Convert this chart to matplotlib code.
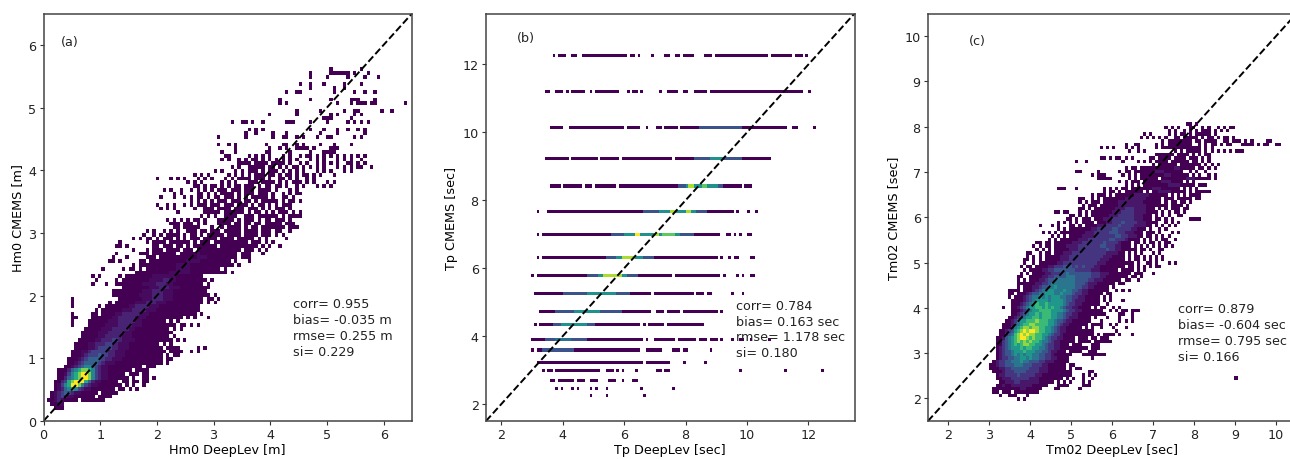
import numpy as np
import matplotlib
matplotlib.use("Agg")
import matplotlib.pyplot as plt
from matplotlib.colors import PowerNorm

# cells are "first column|levels", one string per histogram row, '.' = empty bin
a_first_row = 3
a_cells = [
    "3|111", "2|1122", "1|112321111.1111111", "2|1234322111111.1111",
    "2|12345432211111.11111", "3|123567643221111111.11.1.1",
    "3|12467998643221111111.1.1..1", "3|1134789997532211111.11.11.11",
    "4|113567899864322111111.1..11.1", "4|11246789986432211111.111.11",
    "4|1113567887643221111111.1111", "6|11234566543221111111111.111",
    "7|1123455554322211111111111111.1", "7|1112345555433222111111111111.11",
    "8|111234445443322211111111111.1.11", "8|1112234444433222111111111111.1111..1.1",
    "9|11112234444332221111111111.1111.....1.1", "9|1111223334433222111111111.1.1",
    "10|1111122333443222211111111111.1.1", "11|11111223333322211111111111.1",
    "11|111112223333322111111111111", "12|1111122233333221111111111.1.1",
    "8|1....11111222233332221111111111.11.1.1", "8|1....11111122233333221111111.1.1",
    "8|11....111111223333322211111111111.1.1...1", "8|1.....11.1111223333322211111111111111.1",
    "15|1.11111122233332221111111111111", "8|1.......1.1111111223333222111111111111",
    "8|1..........1.11111122233322211111111111.1.1", "8|1.............1111111222333222111111111.11.1",
    "20|11111111222233322211111111111.1", "20|1111111112223332221111111111",
    "22|.11111111222333222111111111", "14|1...1..11111111222233322111111111.1",
    "15|1.....1.1111111122223322111111111.1", "14|1.1.....1.11111111222222211111111",
    "27|111111111122222211111111111.1", "17|1.....1.11.1.1111111112222111111111.1",
    "25|.1.1111111111122221111111111111.1", "19|11.1.....11.111111111112222111111111.1...1",
    "20|1...1.....111.11111111111222111111111.111", "21|1......111.1111111.11111211111111111.111...1",
    "26|1...1.111.1111.111.1111111111111.111.1.1", "21|11.1.......11.111.11.1.1111111.11111111111.1.1..1",
    "22|1.......1.1111.111111.1.111.1111111111.111.1.1", "26|1.1.11.1.111.1.1.111.1111.1111.11111.1.1.....1",
    "29|1..1.1.1111.1.11.1.11111.1111.1111.111.1.1", "30|1.1..1.1.1..111.11.111.11111.1111.111.11..1",
    "38|11.11111...1..1.1111.1.11.1111111.111", "37|111.111.1.1...1111.11.11.11.11111.111",
    "36|1.1.1.1.11.1...11111.1.111.1.11.111.1", "46|1.1.1..1111..111.111111.1.1111",
    "39|1.......11111.111111.1.11.1.1.111.1.1", "34|1.1.1.....1..111.1111.111.111.1.1.111.1",
    "33|1..1.1..1.1.111.111.111.111.1.11.1.1.111", "43|1.1.1.1.111.111.11.1.11111.1.11.1",
    "34|1...1..1.1.11.1.11.111.1.1.11111.1..11.1", "38|1.1....11.1.1.1111.1.111.111.1..1.1.11",
    "35|1.1..1..1.1.1.1.111.111.111.1111.1...1.1", "44|11.1.11.1.1.11.111.1.11.11.1..1.1...1.1.1",
    "42|1.1.1.....1.1.1...111.1111.1.1.111.1.1...1.1", "33|1...1.1.1...1.1.1...1.1.1111.111.1..11.1.1..1.1",
    "44|1.1.1.....1.1.1.1.111.11.1.11.1.11.1.1...1", "50|1.1...1.1.111.1.111.1.1.1.1...1.1.1...1.1",
    "55|1.1..11111.11.1.1.11.1.1.1.1...1.1.1.11..1", "57|1111.1111.1111.1..1.1..1.1.1.1..11.1.1",
    "52|1.1..1.1.11.1.1.1.1.1.1...1.1.1...1.1.1..1", "53|11.....1.1.1.1...1.1..1.11.1.1.1.1.1.1.1.1",
]
# sparse top of panel (a): row index and the occupied columns
a_top_rows = [71, 72, 73, 75, 76, 77, 79, 80, 81, 82, 84, 85, 87, 88, 89, 91, 92, 93]
a_top_cols = [
    [52, 56, 65, 66, 72, 78, 82, 83, 84, 85],
    [56, 66, 69, 71, 74, 75, 76, 77, 79, 84, 85, 86],
    [51, 54, 56, 65, 70, 71, 74, 76, 81, 85, 90],
    [51, 59, 67, 70, 71, 74, 76, 80, 83, 84, 91, 93],
    [59, 62, 67, 71, 81, 86, 94],
    [60, 62, 64, 78, 82, 86, 89, 92, 94],
    [55, 58, 59, 61, 64, 71, 72, 73, 78, 83, 89, 91, 93, 95],
    [82, 83, 84, 90],
    [66, 74, 84, 86, 91, 93],
    [74, 81, 88, 91, 92, 99, 102],
    [69, 71, 86, 90, 92, 93, 94, 96, 97, 106],
    [69, 78, 84, 90, 91, 92, 97],
    [71, 74, 75, 85, 91, 94, 97],
    [78, 85, 88],
    [75, 78, 82, 88, 93],
    [78, 83, 89, 94, 98],
    [78, 84, 85, 86, 87, 88, 89, 91, 95],
    [84, 93],
]

b_rows = [12.26, 11.2, 10.15, 9.24, 8.42, 7.66, 6.99, 6.31, 5.78, 5.25,
          4.72, 4.35, 3.89, 3.59, 3.22, 2.99, 2.69, 2.46, 2.24]
# occupied column runs on each Tp row
b_runs = [
    [(25, 26), (27, 30), (32, 34), (36, 53), (54, 56), (57, 58), (62, 63), (67, 69), (71, 73),
     (74, 78), (82, 85), (86, 87), (87, 106), (107, 115), (116, 119), (120, 121)],
    [(22, 24), (26, 29), (30, 31), (32, 37), (39, 40), (41, 50), (53, 54), (55, 57), (58, 59),
     (65, 66), (68, 72), (74, 76), (78, 83), (84, 119), (121, 122)],
    [(24, 29), (31, 52), (53, 58), (60, 61), (64, 66), (67, 69), (69, 72), (73, 113), (115, 117), (123, 124)],
    [(22, 31), (32, 42), (43, 50), (51, 70), (71, 107)],
    [(24, 28), (29, 36), (37, 40), (41, 49), (50, 96), (97, 100)],
    [(19, 20), (23, 93), (94, 95), (98, 99), (101, 102)],
    [(19, 20), (21, 88), (90, 92), (93, 94), (95, 96), (98, 100)],
    [(19, 20), (21, 87), (88, 89), (91, 92), (93, 95), (99, 101)],
    [(17, 18), (19, 70), (71, 88), (89, 90), (94, 95), (96, 97), (99, 101)],
    [(18, 62), (63, 78), (79, 82), (83, 85), (92, 93), (96, 97)],
    [(20, 62), (64, 67), (68, 73), (74, 87), (88, 89)],
    [(18, 19), (20, 58), (59, 60), (61, 64), (64, 67), (68, 71), (71, 82)],
    [(17, 59), (60, 61), (63, 71), (72, 79), (80, 83), (84, 87), (88, 89), (92, 93), (95, 97), (99, 100), (106, 107)],
    [(17, 18), (19, 58), (60, 66), (70, 73), (74, 76), (84, 85)],
    [(19, 59), (60, 61), (61, 69), (74, 75), (82, 83)],
    [(21, 22), (23, 25), (26, 43), (45, 48), (49, 50), (51, 52), (56, 57), (64, 65), (65, 66), (67, 69),
     (95, 96), (112, 113), (126, 127)],
    [(24, 26), (27, 33), (34, 37), (39, 40), (40, 42), (46, 49), (51, 52), (55, 57)],
    [(26, 27), (28, 29), (32, 33), (34, 35), (39, 40), (41, 42), (45, 46), (58, 59), (70, 71)],
    [(39, 40), (45, 46), (59, 60)],
]
# brighter stretches: row number, first column, last column, level
b_hot = [
    (2, 80, 95, 3), (3, 78, 95, 3), (3, 84, 88, 5),
    (4, 72, 88, 3), (4, 75, 86, 5), (4, 76, 77, 8), (4, 81, 82, 7),
    (5, 59, 82, 3), (5, 65, 78, 5), (5, 69, 70, 8), (5, 75, 76, 8),
    (6, 47, 77, 3), (6, 52, 72, 5), (6, 56, 57, 9), (6, 63, 64, 8), (6, 66, 70, 7),
    (7, 45, 62, 3), (7, 49, 58, 5), (7, 51, 55, 8),
    (8, 38, 56, 3), (8, 42, 52, 5), (8, 44, 50, 8),
    (9, 29, 53, 3), (9, 38, 48, 5),
    (10, 26, 50, 3), (10, 33, 42, 5),
    (11, 25, 40, 3), (11, 28, 37, 5),
    (12, 22, 37, 3), (12, 26, 31, 4),
    (13, 21, 32, 3),
]

c_first_row = 6
c_cells = [
    "29|1.1", "23|1..111...1", "21|11.111.11111111", "21|1111111112211111....11......1",
    "22|11211222222211111...1111....111", "23|112223322222211111.1.1.1...1.1",
    "22|1122233333322211111111.1.1..1..1", "22|1223333433333221111111111...1.1.1",
    "21|11123334444333322211111111.....11", "20|1112233444444333222111111.1.11",
    "20|1123344455544433322111111.11", "21|1233445556554443322211111",
    "22|123344556656554433221111.......1", "22|1234456565665544332111111...11111111",
    "22|12344566676665544322111.1111..111", "22|123456667677665543322111111111.111",
    "22|113456767887766543322111.111...111", "22|11345678787877655432211111.1111.111111",
    "22|11245678998787765433221111.111.11.111", "23|1134578989887766543321111111111.1.1111.1...1",
    "23|1123467898998776654322111111111.......1", "24|11135678878877665432211111.1.1..1...1...1",
    "24|1112456778877776654322111111.1111..1.1", "25|1123566777877766544322111111...1.....1.1.1",
    "26|112345667767776655432221111.1...1...1...1", "27|1123456676777665543322111111111....11..1",
    "27|111234566777766665433221111111..1.1.11.111", "24|1..11234566776767665433221111.1.11..1.1",
    "27|11123456766766666543322111111..1", "27|11112345666656666544322211111.1.1...1",
    "26|1.1112345565656665544332211111.1.1", "26|11.1112344556665565554332211111.11",
    "26|1111.1112345566555655443221111111..1.1.1", "29|1.1112234455655555544332211111.1",
    "29|11111122334555555554443222111111.11", "29|1.1.111223445555555444433222111111.11..1",
    "29|11..11112233444455544444333221111111.11.1", "30|1.1.11112233344544444443332221111111.111...1",
    "31|1.11112233444444433333222111111.1111.1.1", "30|1.11.11112233344434343332211111111.11.1.1.1.11",
    "31|1..1.1111112233333333333222111111111.1..11.1...1.1", "31|11.1.1.11111222333333333322211111.1.11.1.1.1.1",
    "32|1.1.1.11111222333333333332221111.1.11.1.1.1.1", "32|11..1.11.11122233333333333222211.1.1.1...1.1",
    "35|1.1.1.111112223333333334332211111.11.1..11", "34|1.1.11.1111222233333334433322111.1.1.1.1.1.1.1",
    "35|11.11.1111112223333333433332111.11.1.11.1.11", "39|1.1.11111122233333334433321111.1.1.1.11..1",
    "40|1.1.1.111122223333333443322211.11.1.1.1", "37|1.1.1.111111112223333344433222111.111.1...1.1",
    "42|1.1.1111111223333344333322111.1..1.1", "36|1...1.1...11.1.1111222333343333222211.1.1.1.1",
    "42|1.1.1.1.1111.11122333433332221111..1.1.1", "45|11.1.111.1112223333333222111.11.1.1.....1111",
    "46|11.1.1.11111122233333222111.1.1.1..11", "41|11.11...1.1.1111111222333322221111.1.1.11.1",
    "49|11.1.11111112223332222111.1.1.111.11", "50|1.111.1111112222222221111111.1111.1",
    "49|1.1.111.1111122222222111111.1.11.11.1", "49|11..1.1.1111111222222211111.111.11111.11",
    "53|1.111.1.11111122222111111.1.1.1.1111", "57|1.11.1.111111.1.11222211111.1.11111",
    "42|111...1........1.1.1.11.1111111222111111.1.1.1", "64|1.1.1.11111111222211111.111",
    "62|1.1.111.1111112221111.1.1", "55|11111.....1.1.111111.1111111122211111.1",
    "53|1.111.....1.1.1.1111111122111111.1.1..1.1", "48|11.....1......1.11.1111111222111111..1.1..1",
    "64|1.11.111111111112211111.11.1.1", "73|1.111111.1111111.1.1.1",
    "48|1..1...........1....1.1.1.1111.111111.11.1.1", "56|11.1.11.1.1.....11.1111.1111.111.1.1",
    "74|111111.1111.1.1.11", "65|1..1.1.........1.1.11111.1.1.1.1.1.111",
    "56|1.1.1...1.1.1.....1.1111111111111.1.1", "64|1..11.....1.1.11111111..1.1.11.1.11...1111.1.11..11",
    "76|1.11111111.11.1111..11.111.1.1....11", "69|1.1.1.1.1..11.11111.1.11.1.11.1",
    "70|1.1.....1.1.11.1.11111.1", "78|1.1..1.1.1.111.1.1.1",
    "77|1.1.1...11..1.1..1.1.11", "84|11.1",
]
c_lone = [(9.03, 2.44)]

a_stats = "corr= 0.955\nbias= -0.035 m\nrmse= 0.255 m\nsi= 0.229"
b_stats = "corr= 0.784\nbias= 0.163 sec\nrmse= 1.178 sec\nsi= 0.180"
c_stats = "corr= 0.879\nbias= -0.604 sec\nrmse= 0.795 sec\nsi= 0.166"


def grid_from_rows(cells, first_row, nrow, ncol):
    grid = np.zeros((nrow, ncol))
    for i, line in enumerate(cells):
        start, levels = line.split("|")
        for j, ch in enumerate(levels):
            if ch != ".":
                grid[first_row + i, int(start) + j] = int(ch)
    return grid


def mesh(ax, xe, ye, grid, gamma):
    norm = PowerNorm(gamma, vmin=1, vmax=9)
    ax.pcolormesh(xe, ye, np.ma.masked_equal(grid, 0), cmap="viridis", norm=norm, antialiased=False)


def finish(ax, lim, ticks, xlabel, ylabel, tag, tag_xy, stats, stats_xy):
    ax.plot(lim, lim, "k--", lw=1.4)
    ax.set_xlim(lim)
    ax.set_ylim(lim)
    ax.set_xticks(ticks)
    ax.set_yticks(ticks)
    ax.set_xlabel(xlabel, fontsize=FS, labelpad=1.5)
    ax.set_ylabel(ylabel, fontsize=FS, labelpad=3)
    ax.tick_params(labelsize=FS, length=2.8, width=0.8, pad=2.5, color="#333333", labelcolor="#222222")
    ax.text(tag_xy[0], tag_xy[1], tag, fontsize=FS, va="center", color="#222222")
    ax.text(stats_xy[0], stats_xy[1], stats, fontsize=FS, va="center", linespacing=1.29, color="#222222")
    for s in ax.spines.values():
        s.set_linewidth(1.1)
        s.set_color("#444444")


FS = 9.2
W, H = 1290.0, 460.0
fig = plt.figure(figsize=(12.9, 4.6), dpi=100)
ax1 = fig.add_axes([43.5/W, 38/H, 368.5/W, 407.5/H])
ax2 = fig.add_axes([486/W, 38/H, 368.5/W, 407.5/H])
ax3 = fig.add_axes([928/W, 38/H, 368.5/W, 407.5/H])

# panel a
da = 0.06
ga = grid_from_rows(a_cells, a_first_row, 110, 110)
for r, cols in zip(a_top_rows, a_top_cols):
    ga[r, cols] = 1
mesh(ax1, np.arange(111)*da, np.arange(111)*da, ga, 1.7)
finish(ax1, [0, 6.5], range(0, 7), "Hm0 DeepLev [m]", "Hm0 CMEMS [m]", "(a)", (0.3, 6.05), a_stats, (4.4, 1.49))

# panel b
db = 0.0867
for k, y in enumerate(b_rows):
    vals = np.zeros((1, 140))
    for c0, c1 in b_runs[k]:
        vals[0, c0:c1] = 1
    for row, c0, c1, lev in b_hot:
        if row == k:
            vals[0, c0:c1+1] = np.where(vals[0, c0:c1+1] > 0, lev, 0)
    mesh(ax2, 1.5 + np.arange(141)*db, [y-0.045, y+0.045], vals, 1.0)
finish(ax2, [1.5, 13.5], range(2, 13, 2), "Tp DeepLev [sec]", "Tp CMEMS [sec]", "(b)", (2.5, 12.78), b_stats, (9.64, 4.21))

# panel c
dc = 0.075
gc = grid_from_rows(c_cells, c_first_row, 120, 120)
mesh(ax3, 1.5 + np.arange(121)*dc, 1.5 + np.arange(121)*dc, gc, 1.35)
ax3.scatter(*zip(*c_lone), s=5, marker="s", color="#440154", linewidths=0)
finish(ax3, [1.5, 10.5], range(2, 11), "Tm02 DeepLev [sec]", "Tm02 CMEMS [sec]", "(c)", (2.5, 9.9), c_stats, (7.6, 3.46))

fig.savefig("out.png", dpi=100)
